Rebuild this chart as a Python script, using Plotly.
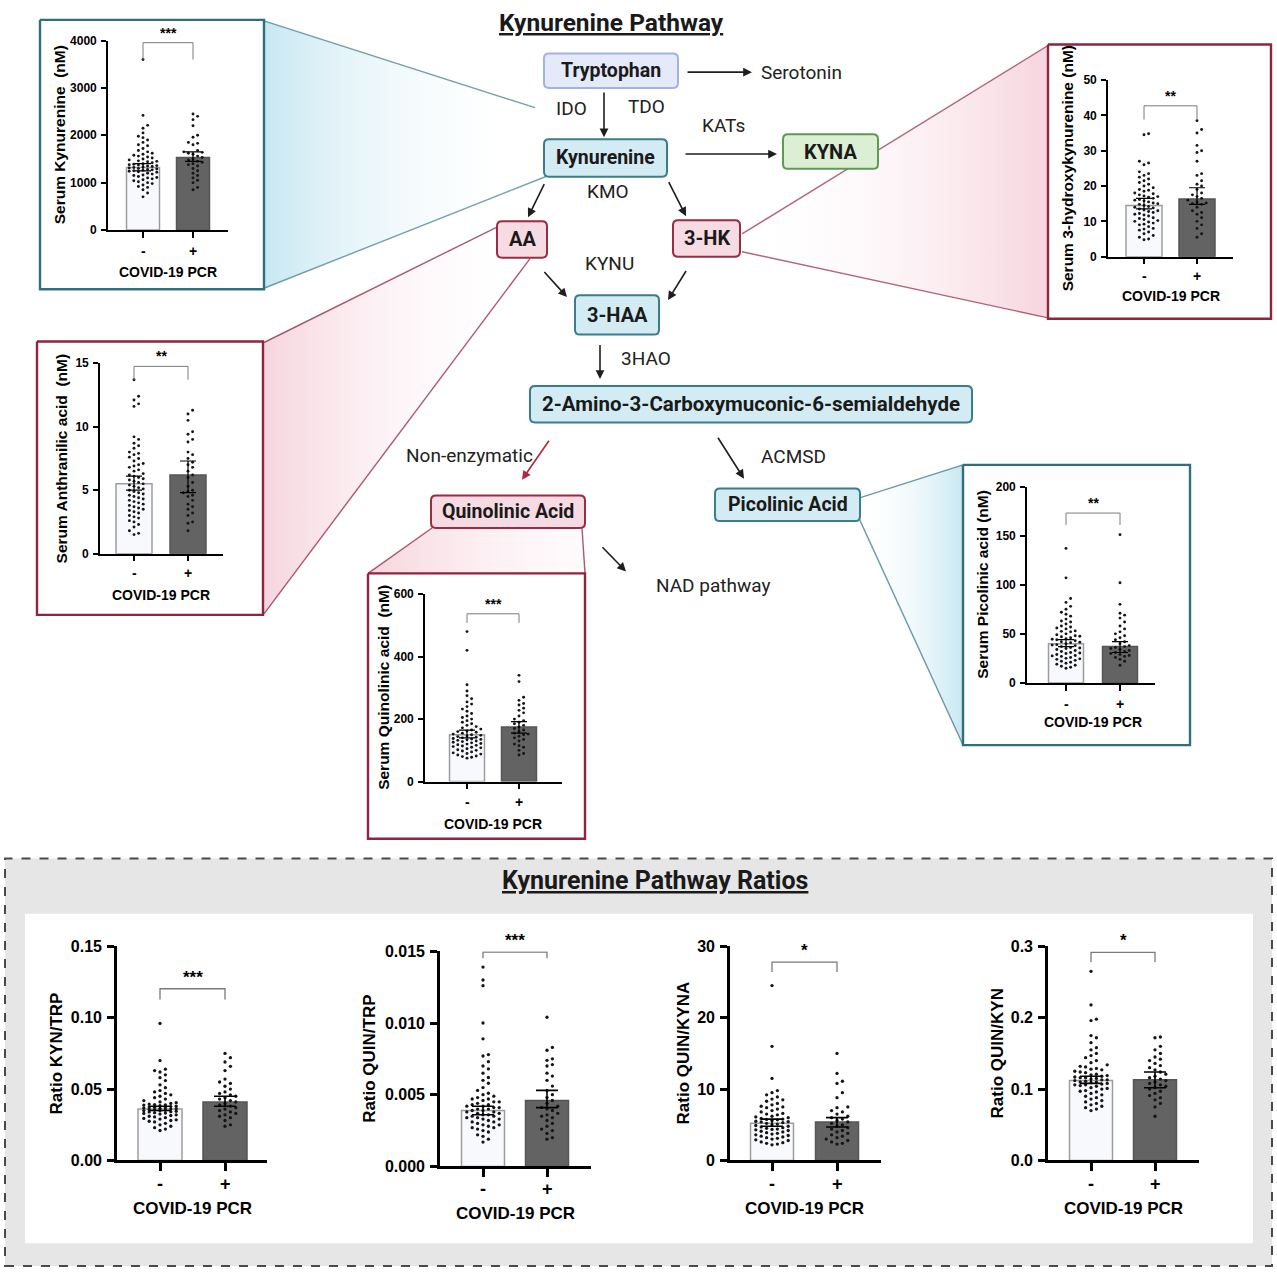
import plotly.graph_objects as go

W, H = 1277, 1280

# ------------------------------------------------------------------
# DATA
# ------------------------------------------------------------------
groups = ["-", "+"]

kyn_neg = [3600, 2420, 2210, 2150, 2050, 1980, 1950, 1900, 1850, 1800, 1780, 1720, 1680, 1650, 1620, 1600,
           1580, 1560, 1540, 1520, 1500, 1480, 1460, 1450, 1440, 1420, 1400, 1390, 1380, 1370, 1360, 1350,
           1340, 1330, 1320, 1310, 1300, 1290, 1280, 1270, 1260, 1250, 1240, 1230, 1220, 1200, 1180, 1160,
           1150, 1130, 1110, 1100, 1080, 1060, 1040, 1020, 1000, 980, 950, 920, 900, 850, 780, 700]
kyn_pos = [2450, 2400, 2330, 2200, 2000, 1960, 1850, 1830, 1800, 1680, 1650, 1640, 1620, 1600, 1560, 1530,
           1500, 1480, 1450, 1430, 1400, 1380, 1350, 1300, 1250, 1200, 1150, 1100, 1050, 1000, 900, 850]
kyn_bar = [1320, 1530]
kyn_ci_low = [1250, 1450]
kyn_ci_high = [1400, 1650]
kyn_ticks = [0, 1000, 2000, 3000, 4000]
kyn_ticktext = ["0", "1000", "2000", "3000", "4000"]

hk_neg = [34.8, 34.5, 27, 26.5, 26, 24, 23.5, 23, 22.5, 22, 21, 20.5, 20, 19.5, 19, 18.5, 18, 17.8, 17.5,
          17.2, 17, 16.8, 16.5, 16, 15.8, 15.5, 15.2, 15, 14.8, 14.5, 14.2, 14, 13.8, 13.5, 13.2, 13, 12.8,
          12.5, 12.2, 12, 11.8, 11.5, 11, 10.8, 10.5, 10.2, 10, 9.8, 9.5, 9.2, 9, 8.5, 8, 7.8, 7.5, 7, 6.5,
          6, 5.5, 5, 4.8, 16.2, 18.8, 21.5]
hk_pos = [38.5, 36, 35, 31.5, 30, 29.5, 27, 23.5, 23, 21.5, 20.5, 20, 19, 18, 17.5, 17, 16.5, 16, 15.5,
          15.2, 15, 14.8, 14, 13, 12.5, 12, 11, 10, 9, 8, 6.5, 5.5]
hk_bar = [14.5, 16.3]
hk_ci_low = [13.5, 14.8]
hk_ci_high = [16.5, 19.5]
hk_ticks = [0, 10, 20, 30, 40, 50]
hk_ticktext = ["0", "10", "20", "30", "40", "50"]

aa_neg = [13.7, 12.4, 12.1, 11.8, 11.6, 9.2, 9.0, 8.7, 8.5, 8.3, 8.0, 7.8, 7.6, 7.5, 7.3, 7.1, 7.0, 6.8,
          6.6, 6.5, 6.3, 6.2, 6.1, 6.0, 5.9, 5.8, 5.6, 5.5, 5.4, 5.3, 5.2, 5.1, 5.0, 4.9, 4.8, 4.6, 4.5,
          4.4, 4.3, 4.2, 4.1, 4.0, 3.9, 3.8, 3.7, 3.6, 3.5, 3.4, 3.2, 3.0, 2.9, 2.8, 2.6, 2.5, 2.3, 2.1,
          1.8, 1.6, 1.5, 6.9, 5.7, 4.7, 3.3, 7.9]
aa_pos = [11.3, 11.0, 10.5, 9.6, 9.4, 9.0, 8.8, 8.0, 7.8, 7.5, 7.2, 7.0, 6.8, 6.5, 6.2, 6.0, 5.6, 5.3,
          5.0, 4.9, 4.8, 4.6, 4.5, 4.2, 3.9, 3.7, 3.5, 3.2, 3.0, 2.5, 2.4, 1.8]
aa_bar = [5.5, 6.2]
aa_ci_low = [5.0, 4.8]
aa_ci_high = [6.1, 7.3]
aa_ticks = [0, 5, 10, 15]
aa_ticktext = ["0", "5", "10", "15"]

quin_neg = [480, 420, 310, 290, 275, 265, 255, 248, 240, 232, 225, 218, 210, 205, 200, 195, 190, 185,
            180, 176, 172, 168, 165, 162, 160, 158, 155, 152, 150, 148, 146, 144, 142, 140, 138, 136,
            134, 132, 130, 128, 126, 124, 122, 120, 118, 116, 114, 112, 110, 108, 105, 102, 100, 98,
            95, 92, 90, 88, 85, 82, 80, 78, 75, 135]
quin_pos = [340, 320, 270, 260, 250, 245, 235, 228, 220, 210, 200, 195, 190, 185, 180, 175, 170, 165,
            160, 155, 152, 150, 145, 140, 135, 130, 120, 115, 110, 100, 90, 85]
quin_bar = [150, 175]
quin_ci_low = [140, 155]
quin_ci_high = [165, 192]
quin_ticks = [0, 200, 400, 600]
quin_ticktext = ["0", "200", "400", "600"]

pic_neg = [137, 107, 86, 82, 78, 75, 72, 70, 68, 65, 62, 60, 58, 57, 55, 53, 52, 50, 49, 48, 47, 46, 45,
           44, 43, 42, 41, 40, 39, 38, 37, 36, 35, 34, 33, 32, 31, 30, 29, 28, 27, 26, 25, 24, 23, 22, 21,
           20, 19, 18, 17, 16, 15, 44.5, 41.5, 38.5, 35.5, 47.5, 52.5, 30.5, 27.5, 24.5, 63, 56]
pic_pos = [151, 102, 80, 71, 69, 66, 62, 58, 55, 52, 50, 48, 46, 44, 42, 40, 38, 37, 36, 35, 34, 33, 32,
           31, 30, 29, 28, 27, 26, 24, 22, 18]
pic_bar = [40, 37]
pic_ci_low = [37, 31]
pic_ci_high = [44, 42]
pic_ticks = [0, 50, 100, 150, 200]
pic_ticktext = ["0", "50", "100", "150", "200"]

kt_neg = [0.096, 0.070, 0.064, 0.063, 0.062, 0.060, 0.058, 0.056, 0.053, 0.051, 0.049, 0.048, 0.047,
          0.046, 0.045, 0.044, 0.043, 0.042, 0.041, 0.0405, 0.040, 0.0395, 0.039, 0.0385, 0.038, 0.0378,
          0.0375, 0.037, 0.0368, 0.0365, 0.036, 0.0358, 0.0355, 0.035, 0.0348, 0.0345, 0.034, 0.0335,
          0.033, 0.0325, 0.032, 0.0315, 0.031, 0.0305, 0.030, 0.0295, 0.029, 0.0285, 0.028, 0.0275,
          0.027, 0.026, 0.025, 0.024, 0.023, 0.022, 0.021, 0.0388, 0.0372, 0.0362, 0.0342, 0.0332,
          0.0392, 0.0352]
kt_pos = [0.075, 0.072, 0.069, 0.066, 0.063, 0.057, 0.055, 0.054, 0.052, 0.050, 0.048, 0.047, 0.046,
          0.045, 0.044, 0.043, 0.042, 0.041, 0.040, 0.039, 0.038, 0.037, 0.036, 0.035, 0.034, 0.033,
          0.032, 0.031, 0.030, 0.028, 0.025, 0.024]
kt_bar = [0.036, 0.041]
kt_ci_low = [0.035, 0.038]
kt_ci_high = [0.038, 0.045]
kt_ticks = [0, 0.05, 0.10, 0.15]
kt_ticktext = ["0.00", "0.05", "0.10", "0.15"]

qt_neg = [0.0139, 0.0130, 0.0126, 0.0100, 0.0089, 0.0078, 0.0077, 0.0073, 0.0070, 0.0068, 0.0065,
          0.0062, 0.0060, 0.0058, 0.0055, 0.0053, 0.0051, 0.0050, 0.0049, 0.0048, 0.0047, 0.0046,
          0.0045, 0.0044, 0.0043, 0.0042, 0.0041, 0.0040, 0.0039, 0.0038, 0.0037, 0.0036, 0.0035,
          0.0034, 0.0033, 0.0032, 0.0031, 0.0030, 0.0029, 0.0028, 0.0027, 0.0026, 0.0025, 0.0024,
          0.0022, 0.0021, 0.0019, 0.0017, 0.0041, 0.0039, 0.0037, 0.0035, 0.0043, 0.0045, 0.0033,
          0.0031, 0.0047, 0.0040, 0.0038, 0.0036, 0.0042, 0.0034, 0.0029, 0.0027]
qt_pos = [0.0104, 0.0083, 0.0081, 0.0075, 0.0074, 0.0071, 0.0070, 0.0065, 0.0063, 0.0060, 0.0056,
          0.0053, 0.0050, 0.0048, 0.0046, 0.0044, 0.0042, 0.0041, 0.0040, 0.0039, 0.0037, 0.0036,
          0.0035, 0.0034, 0.0032, 0.0030, 0.0028, 0.0026, 0.0025, 0.0023, 0.0020, 0.0019]
qt_bar = [0.0039, 0.0046]
qt_ci_low = [0.0036, 0.0041]
qt_ci_high = [0.0042, 0.0053]
qt_ticks = [0, 0.005, 0.010, 0.015]
qt_ticktext = ["0.000", "0.005", "0.010", "0.015"]

qk_neg = [24.5, 16.0, 11.5, 9.8, 9.5, 9.2, 8.9, 8.6, 8.3, 8.0, 7.8, 7.6, 7.4, 7.2, 7.0, 6.8, 6.6, 6.4,
          6.2, 6.0, 5.9, 5.8, 5.7, 5.6, 5.5, 5.4, 5.3, 5.2, 5.1, 5.0, 4.9, 4.8, 4.7, 4.6, 4.5, 4.4, 4.3,
          4.2, 4.1, 4.0, 3.9, 3.8, 3.7, 3.6, 3.5, 3.4, 3.3, 3.2, 3.1, 3.0, 2.9, 2.8, 2.6, 2.5, 2.4, 2.3,
          2.2, 6.1, 5.75, 5.45, 7.5, 6.5, 8.5, 4.35]
qk_pos = [15.0, 12.2, 11.1, 10.8, 9.5, 8.8, 7.5, 7.4, 7.0, 6.8, 6.5, 6.2, 6.0, 5.8, 5.6, 5.4, 5.2, 5.0,
          4.8, 4.6, 4.4, 4.2, 4.0, 3.8, 3.6, 3.4, 3.2, 3.0, 2.8, 2.6, 2.4, 2.3]
qk_bar = [5.2, 5.4]
qk_ci_low = [4.8, 4.7]
qk_ci_high = [5.8, 6.0]
qk_ticks = [0, 10, 20, 30]
qk_ticktext = ["0", "10", "20", "30"]

qn_neg = [0.265, 0.218, 0.198, 0.196, 0.175, 0.172, 0.165, 0.158, 0.155, 0.150, 0.147, 0.144, 0.140,
          0.137, 0.134, 0.131, 0.129, 0.127, 0.125, 0.123, 0.121, 0.119, 0.118, 0.117, 0.116, 0.115,
          0.114, 0.113, 0.112, 0.111, 0.110, 0.109, 0.108, 0.107, 0.106, 0.105, 0.104, 0.102, 0.100,
          0.098, 0.096, 0.094, 0.092, 0.090, 0.088, 0.086, 0.084, 0.082, 0.080, 0.078, 0.076, 0.074,
          0.072, 0.070, 0.120, 0.116, 0.113, 0.110, 0.124, 0.128, 0.106, 0.101, 0.097, 0.132]
qn_pos = [0.173, 0.172, 0.160, 0.155, 0.150, 0.145, 0.142, 0.140, 0.136, 0.133, 0.130, 0.127, 0.124,
          0.121, 0.118, 0.116, 0.114, 0.112, 0.110, 0.108, 0.106, 0.104, 0.102, 0.100, 0.097, 0.094,
          0.091, 0.088, 0.085, 0.080, 0.075, 0.062]
qn_bar = [0.112, 0.113]
qn_ci_low = [0.108, 0.102]
qn_ci_high = [0.118, 0.124]
qn_ticks = [0, 0.1, 0.2, 0.3]
qn_ticktext = ["0.0", "0.1", "0.2", "0.3"]

# ------------------------------------------------------------------
# STYLE / LAYOUT
# ------------------------------------------------------------------
CHART_FONT = "Liberation Sans, Arial, sans-serif"
DIAG_FONT = "Roboto, Liberation Sans, sans-serif"
CY_FILL, CY_LINE = "#d3ebf2", "#3a7d8c"
PK_FILL, PK_LINE = "#f7dbe2", "#9a2b47"
GR_FILL, GR_LINE = "#dcefd5", "#5e9b50"
TR_FILL, TR_LINE = "#e4eaf9", "#a3b2e0"
NEG_FILL, NEG_LINE = "#f7f9fc", "#9c9c9c"
POS_FILL, POS_LINE = "#636363", "#555555"

panels = [
    dict(neg=kyn_neg, pos=kyn_pos, bar=kyn_bar, lo=kyn_ci_low, hi=kyn_ci_high, ymax=4000, ticks=kyn_ticks,
         ticktext=kyn_ticktext, title="Serum Kynurenine  (nM)", sig="***", br=(3600, 3955),
         ax=108, xend=228, y0=225, ytop=33, c0=143, c1=193, bw=33, tx=59, lab_y=246, cov_y=268, big=False),
    dict(neg=hk_neg, pos=hk_pos, bar=hk_bar, lo=hk_ci_low, hi=hk_ci_high, ymax=50, ticks=hk_ticks,
         ticktext=hk_ticktext, title="Serum 3-hydroxykynurenine (nM)", sig="**", br=(38.8, 42.7),
         ax=1108, xend=1233, y0=252, ytop=73, c0=1144, c1=1197, bw=36, tx=1067, lab_y=272, cov_y=292, big=False),
    dict(neg=aa_neg, pos=aa_pos, bar=aa_bar, lo=aa_ci_low, hi=aa_ci_high, ymax=15, ticks=aa_ticks,
         ticktext=aa_ticktext, title="Serum Anthranilic acid  (nM)", sig="**", br=(13.7, 14.75),
         ax=100, xend=223, y0=553, ytop=360, c0=134, c1=188, bw=36, tx=61, lab_y=573, cov_y=595, big=False),
    dict(neg=quin_neg, pos=quin_pos, bar=quin_bar, lo=quin_ci_low, hi=quin_ci_high, ymax=600, ticks=quin_ticks,
         ticktext=quin_ticktext, title="Serum Quinolinic acid  (nM)", sig="***", br=(508, 537),
         ax=425, xend=562, y0=784, ytop=594, c0=467, c1=519, bw=35, tx=384, lab_y=805, cov_y=827, big=False),
    dict(neg=pic_neg, pos=pic_pos, bar=pic_bar, lo=pic_ci_low, hi=pic_ci_high, ymax=200, ticks=pic_ticks,
         ticktext=pic_ticktext, title="Serum Picolinic acid (nM)", sig="**", br=(161, 173),
         ax=1027, xend=1155, y0=684, ytop=485, c0=1066, c1=1120, bw=35, tx=983, lab_y=705, cov_y=724, big=False),
    dict(neg=kt_neg, pos=kt_pos, bar=kt_bar, lo=kt_ci_low, hi=kt_ci_high, ymax=0.15, ticks=kt_ticks,
         ticktext=kt_ticktext, title="Ratio KYN/TRP", sig="***", br=(0.1127, 0.1203),
         ax=117, xend=267, y0=1168, ytop=951, c0=160, c1=225, bw=44, tx=56, lab_y=1192, cov_y=1217, big=True),
    dict(neg=qt_neg, pos=qt_pos, bar=qt_bar, lo=qt_ci_low, hi=qt_ci_high, ymax=0.015, ticks=qt_ticks,
         ticktext=qt_ticktext, title="Ratio QUIN/TRP", sig="***", br=(0.01452, 0.01494),
         ax=440, xend=591, y0=1174, ytop=956, c0=483, c1=547, bw=43, tx=370, lab_y=1197, cov_y=1222, big=True),
    dict(neg=qk_neg, pos=qk_pos, bar=qk_bar, lo=qk_ci_low, hi=qk_ci_high, ymax=30, ticks=qk_ticks,
         ticktext=qk_ticktext, title="Ratio QUIN/KYNA", sig="*", br=(26.4, 27.8),
         ax=730, xend=881, y0=1168, ytop=951, c0=772, c1=837, bw=43, tx=683, lab_y=1192, cov_y=1217, big=True),
    dict(neg=qn_neg, pos=qn_pos, bar=qn_bar, lo=qn_ci_low, hi=qn_ci_high, ymax=0.3, ticks=qn_ticks,
         ticktext=qn_ticktext, title="Ratio QUIN/KYN", sig="*", br=(0.278, 0.2917),
         ax=1048, xend=1199, y0=1168, ytop=951, c0=1091, c1=1155, bw=43, tx=997, lab_y=1192, cov_y=1217, big=True),
]


def swarm(vals, ppu_y, ppu_x, half_px, d):
    """Deterministic beeswarm offsets (in x-axis units) for dot positions."""
    order = sorted(range(len(vals)), key=lambda i: vals[i])
    cands = [0.0]
    k = 1
    while k * d <= half_px:
        cands += [k * d, -k * d]
        k += 1
    placed, out = [], [0.0] * len(vals)
    for i in order:
        yp = vals[i] * ppu_y
        best, bestd = 0.0, -1.0
        for c in cands:
            near = [((c - px) ** 2 + (yp - py) ** 2) ** 0.5 for px, py in placed if abs(yp - py) < d]
            md = min(near) if near else 99.0
            if md >= d:
                best = c
                break
            if md > bestd:
                best, bestd = c, md
        placed.append((best, yp))
        out[i] = best / ppu_x
    return out


def rr_path(x0, y0, x1, y1, r=5):
    return (f"M {x0+r},{y0} L {x1-r},{y0} Q {x1},{y0} {x1},{y0+r} L {x1},{y1-r} Q {x1},{y1} {x1-r},{y1} "
            f"L {x0+r},{y1} Q {x0},{y1} {x0},{y1-r} L {x0},{y0+r} Q {x0},{y0} {x0+r},{y0} Z")


fig = go.Figure()
shapes, annotations = [], []
layout = dict(
    width=W, height=H, margin=dict(l=0, r=0, t=0, b=0), autosize=False,
    paper_bgcolor="white", plot_bgcolor="rgba(0,0,0,0)", showlegend=False,
    xaxis=dict(domain=[0, 1], range=[0, W], visible=False, fixedrange=True),
    yaxis=dict(domain=[0, 1], range=[H, 0], visible=False, fixedrange=True),
)

# ---- bottom grey dashed panel (paper shapes, below everything) ----
shapes.append(dict(type="rect", xref="paper", yref="paper", layer="below",
                   x0=5 / W, x1=1272 / W, y0=1 - 1275 / H, y1=1 - 862 / H,
                   fillcolor="#e6e6e6", line=dict(color="#4a4a4a", width=2, dash="dash")))
shapes.append(dict(type="rect", xref="paper", yref="paper", layer="below",
                   x0=25 / W, x1=1253 / W, y0=1 - 1252 / H, y1=1 - 918 / H,
                   fillcolor="white", line=dict(width=0)))


# ---- zoom wedges on canvas (gradient fills) ----
def wedge(xs, ys, start, stop, c_start, c_stop, edges, ecol):
    fig.add_trace(go.Scatter(x=xs, y=ys, fill="toself", mode="lines", line=dict(width=0),
                             fillgradient=dict(type="horizontal", start=start, stop=stop,
                                               colorscale=[[0, c_start], [1, c_stop]]),
                             hoverinfo="skip", xaxis="x", yaxis="y"))
    for (ex, ey) in edges:
        fig.add_trace(go.Scatter(x=ex, y=ey, mode="lines", line=dict(color=ecol, width=1.4),
                                 hoverinfo="skip", xaxis="x", yaxis="y"))


CY_W = "rgba(190,228,240,0.85)"
PK_W = "rgba(245,205,216,0.85)"
CLEAR = "rgba(255,255,255,0)"
wedge([264, 535, 548, 264], [13, 101, 170, 284], 264, 530, CY_W, CLEAR,
      [([264, 535], [13, 101]), ([264, 548], [284, 170])], "rgba(47,111,126,0.65)")
wedge([742, 1048, 1048, 742], [229, 38, 314, 247], 742, 1048, CLEAR, PK_W,
      [([742, 1048], [229, 38]), ([742, 1048], [247, 314])], "rgba(143,35,64,0.7)")
wedge([497, 264, 264, 530], [222, 339, 614, 254], 264, 530, PK_W, CLEAR,
      [([497, 264], [222, 339]), ([530, 264], [254, 614])], "rgba(143,35,64,0.75)")
wedge([432, 368, 585, 582], [527, 573, 573, 527], 368, 590, PK_W, "rgba(255,245,248,0.3)",
      [([432, 368], [527, 573]), ([582, 585], [527, 573])], "rgba(143,35,64,0.75)")
wedge([858, 963, 963, 858], [497, 463, 747, 515], 858, 963, CLEAR, CY_W,
      [([858, 963], [497, 463]), ([858, 963], [515, 747])], "rgba(47,111,126,0.7)")

# ---- inset frames ----
frames = [((40, 12, 264, 285), "#2f6f7e"), ((1048, 37, 1271, 315), "#8f2340"),
          ((37, 338, 263, 615), "#8f2340"), ((368, 573, 585, 842), "#8f2340"),
          ((963, 463, 1190, 747), "#2f6f7e")]
for (x0, y0, x1, y1), col in frames:
    fig.add_trace(go.Scatter(x=[x0, x1, x1, x0, x0], y=[y0, y0, y1, y1, y0], fill="toself",
                             fillcolor="white", mode="lines", line=dict(color=col, width=2.4),
                             hoverinfo="skip", xaxis="x", yaxis="y"))

# ---- chart panels ----
for i, p in enumerate(panels):
    n = i + 2
    big = p["big"]
    lw = 2.6 if big else 1.6
    tlen = 7 if big else 5
    tick_fs = 16 if big else 12
    title_fs = 17 if big else 15.5
    cov_fs = 17 if big else 14
    pm_fs = 18 if big else 14
    star_fs = 17 if big else 14
    cap = 11 if big else 8
    dot = 3.3 if big else 2.9
    spacing = 5.4 if big else 4.6
    u = p["c1"] - p["c0"]
    ppu_y = (p["y0"] - p["ytop"]) / p["ymax"]
    xr = [(p["ax"] - p["c0"]) / u, (p["xend"] - p["c0"]) / u]
    xa, ya = f"x{n}", f"y{n}"

    layout[f"xaxis{n}"] = dict(domain=[p["ax"] / W, p["xend"] / W], range=xr, anchor=ya,
                               showline=True, linecolor="black", linewidth=lw, ticks="outside",
                               tickvals=[0, 1], ticklen=tlen + 1, tickwidth=lw, tickcolor="black",
                               showticklabels=False, showgrid=False, zeroline=False, fixedrange=True)
    layout[f"yaxis{n}"] = dict(domain=[1 - p["y0"] / H, 1 - p["ytop"] / H], range=[0, p["ymax"]],
                               anchor=xa, showline=True, linecolor="black", linewidth=lw,
                               ticks="outside", tickvals=p["ticks"], ticktext=p["ticktext"],
                               ticklen=tlen, tickwidth=lw, tickcolor="black", ticklabelstandoff=2,
                               tickfont=dict(family=CHART_FONT, size=tick_fs, color="black", weight="bold"),
                               showgrid=False, zeroline=False, fixedrange=True)

    fig.add_trace(go.Bar(x=[0, 1], y=p["bar"], width=p["bw"] / u, xaxis=xa, yaxis=ya,
                         marker=dict(color=[NEG_FILL, POS_FILL],
                                     line=dict(color=[NEG_LINE, POS_LINE], width=1.5)),
                         hoverinfo="skip"))
    for gi, vals in enumerate([p["neg"], p["pos"]]):
        offs = swarm(vals, ppu_y, u, p["bw"] / 2 - 1, spacing)
        fig.add_trace(go.Scatter(x=[gi + o for o in offs], y=vals, mode="markers", xaxis=xa, yaxis=ya,
                                 marker=dict(size=dot, color="#151515", line=dict(width=0)),
                                 cliponaxis=False, hoverinfo="skip"))
    fig.add_trace(go.Scatter(x=[0, 1], y=p["bar"], mode="markers", xaxis=xa, yaxis=ya,
                             marker=dict(size=1, color="rgba(0,0,0,0)"),
                             error_y=dict(type="data", symmetric=False,
                                          array=[h - m for h, m in zip(p["hi"], p["bar"])],
                                          arrayminus=[m - l for m, l in zip(p["bar"], p["lo"])],
                                          color="black", thickness=1.6 if big else 1.2, width=cap),
                             hoverinfo="skip"))
    lo_b, hi_b = p["br"]
    fig.add_trace(go.Scatter(x=[0, 0, 1, 1], y=[lo_b, hi_b, hi_b, lo_b], mode="lines", xaxis=xa, yaxis=ya,
                             line=dict(color="#7a7a7a", width=1.3 if big else 1.0), hoverinfo="skip"))
    annotations.append(dict(x=0.5, y=hi_b, xref=xa, yref=ya, text=p["sig"], showarrow=False,
                            yanchor="bottom", yshift=0,
                            font=dict(family=CHART_FONT, size=star_fs, color="black", weight="bold")))
    # category labels, axis titles (canvas pixel positions)
    for gx, g in zip([p["c0"], p["c1"]], groups):
        annotations.append(dict(x=gx, y=p["lab_y"], xref="x", yref="y", text=g, showarrow=False,
                                font=dict(family=CHART_FONT, size=pm_fs, color="black", weight="bold")))
    annotations.append(dict(x=(p["c0"] + p["c1"]) / 2, y=p["cov_y"], xref="x", yref="y",
                            text="COVID-19 PCR", showarrow=False,
                            font=dict(family=CHART_FONT, size=cov_fs, color="black", weight="bold")))
    annotations.append(dict(x=p["tx"], y=(p["y0"] + p["ytop"]) / 2, xref="x", yref="y",
                            text=p["title"], textangle=-90, showarrow=False,
                            font=dict(family=CHART_FONT, size=title_fs, color="black", weight="bold")))

# ---- pathway boxes ----
boxes = [
    ("Tryptophan", 544, 46, 678, 81, TR_FILL, TR_LINE, 19.5),
    ("Kynurenine", 544, 133, 667, 171, CY_FILL, CY_LINE, 19.5),
    ("KYNA", 783, 128, 878, 163, GR_FILL, GR_LINE, 20),
    ("AA", 497, 216, 547, 253, PK_FILL, PK_LINE, 20),
    ("3-HK", 673, 215, 740, 252, PK_FILL, PK_LINE, 20),
    ("3-HAA", 575, 291, 659, 331, CY_FILL, CY_LINE, 20),
    ("2-Amino-3-Carboxymuconic-6-semialdehyde", 530, 383, 972, 420, CY_FILL, CY_LINE, 20.5),
    ("Quinolinic Acid", 431, 494, 585, 527, PK_FILL, PK_LINE, 19.5),
    ("Picolinic Acid", 715, 487, 860, 520, CY_FILL, CY_LINE, 19.5),
]
for lab, x0, y0, x1, y1, fc, lc, fs in boxes:
    shapes.append(dict(type="path", xref="x", yref="y", layer="above", path=rr_path(x0, y0, x1, y1),
                       fillcolor=fc, line=dict(color=lc, width=2)))
    annotations.append(dict(x=(x0 + x1) / 2, y=(y0 + y1) / 2, xref="x", yref="y", text=lab,
                            showarrow=False,
                            font=dict(family=DIAG_FONT, size=fs, color="#1a1a1a", weight="bold")))

labels = [("Serotonin", 801, 65), ("IDO", 571, 102), ("TDO", 646, 100), ("KATs", 723, 119),
          ("KMO", 608, 186), ("KYNU", 609, 259), ("3HAO", 646, 355), ("Non-enzymatic", 469, 454),
          ("ACMSD", 793, 455), ("NAD pathway", 713, 585)]
for t, x, y in labels:
    annotations.append(dict(x=x, y=y, xref="x", yref="y", text=t, showarrow=False,
                            font=dict(family=DIAG_FONT, size=19, color="#222222")))

annotations.append(dict(x=611, y=15, xref="x", yref="y", text="Kynurenine Pathway", showarrow=False,
                        font=dict(family=DIAG_FONT, size=24.5, color="#1a1a1a", weight="bold",
                                  lineposition="under")))
annotations.append(dict(x=655, y=884, xref="x", yref="y", text="Kynurenine Pathway Ratios", showarrow=False,
                        font=dict(family=DIAG_FONT, size=25, color="#1a1a1a", weight="bold",
                                  lineposition="under")))

arrows = [((686, 65), (752, 65), "#1e1e1e"), ((604, 84), (604, 131), "#1e1e1e"),
          ((684, 148), (777, 148), "#1e1e1e"), ((545, 177), (528, 212), "#1e1e1e"),
          ((668, 175), (686, 211), "#1e1e1e"), ((543, 266), (567, 293), "#1e1e1e"),
          ((687, 265), (668, 296), "#1e1e1e"), ((600, 340), (600, 376), "#1e1e1e"),
          ((550, 437), (522, 478), "#b3243d"), ((717, 434), (744, 477), "#1e1e1e"),
          ((601, 545), (626, 571), "#1e1e1e")]
for (tx, ty), (hx, hy), col in arrows:
    annotations.append(dict(x=hx, y=hy, ax=tx, ay=ty, xref="x", yref="y", axref="x", ayref="y",
                            text="", showarrow=True, arrowhead=2, arrowsize=1.1, arrowwidth=1.6,
                            arrowcolor=col, standoff=0, startstandoff=0))

layout["shapes"] = shapes
layout["annotations"] = annotations
fig.update_layout(**layout)

fig.write_html("out.html", include_plotlyjs=True, full_html=True,
               config={"displayModeBar": False, "responsive": False},
               post_script="document.body.style.margin='0';document.body.style.overflow='hidden';")
